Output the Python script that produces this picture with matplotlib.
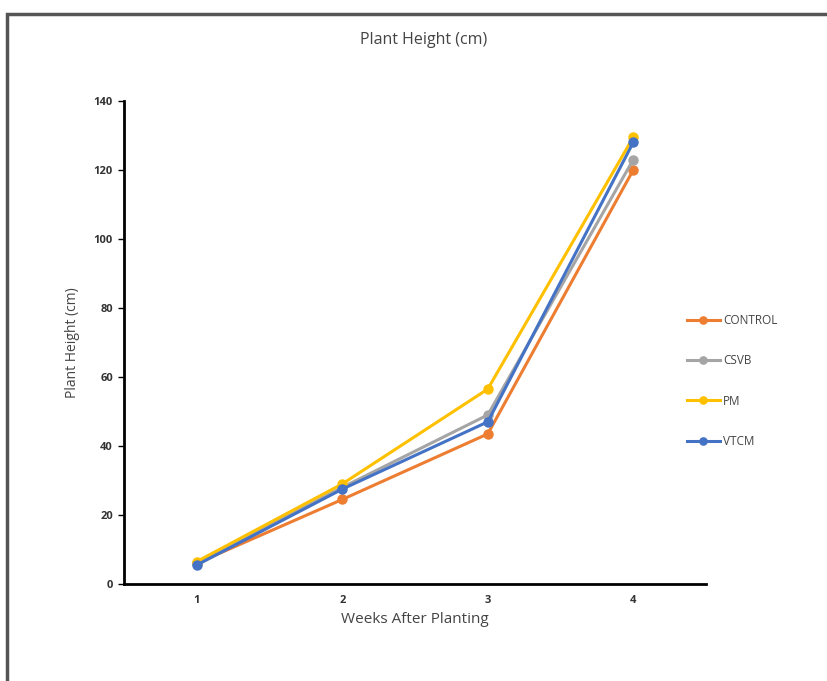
import matplotlib.pyplot as plt
from matplotlib.patches import Rectangle

plt.rcParams['font.family'] = ['Open Sans', 'DejaVu Sans']

weeks = [1, 2, 3, 4]
control = [6.0, 24.5, 43.5, 120.0]
csvb = [6.0, 28.0, 49.0, 123.0]
pm = [6.5, 29.0, 56.5, 129.5]
vtcm = [5.5, 27.5, 47.0, 128.0]

series = [('CONTROL', control, '#ED7D31'),
          ('CSVB', csvb, '#A5A5A5'),
          ('PM', pm, '#FFC000'),
          ('VTCM', vtcm, '#4472C4')]

fig = plt.figure(figsize=(8.27, 6.81), dpi=100)

# outer frame of the chart area
frame = Rectangle((7/827, -0.05), 1.2, 1 - 14/681 + 0.05, transform=fig.transFigure,
                  fill=False, edgecolor='#555555', linewidth=2.5)
fig.patches.append(frame)

ax = fig.add_axes([124/827, 1 - 584/681, 582/827, 483/681])

for name, vals, col in series:
    ax.plot(weeks, vals, color=col, linewidth=2.2, marker='o', markersize=6.5, label=name)

ax.set_xlim(0.5, 4.5)
ax.set_ylim(0, 140)
ax.set_yticks(range(0, 141, 20))
ax.set_xticks(weeks)
for s in ['top', 'right']:
    ax.spines[s].set_visible(False)
for s in ['left', 'bottom']:
    ax.spines[s].set_linewidth(2)
ax.tick_params(axis='y', length=4, width=1, labelsize=8, pad=4)
ax.tick_params(axis='x', length=0, labelsize=8, pad=8)
for lbl in ax.get_xticklabels() + ax.get_yticklabels():
    lbl.set_fontweight('bold')
    lbl.set_color('#333333')

ax.set_xlabel('Weeks After Planting', fontsize=11, color='#444444', labelpad=4)
ax.set_ylabel('Plant Height (cm)', fontsize=10, color='#444444', labelpad=10)

fig.text(424/827, 1 - 40/681, 'Plant Height (cm)', ha='center', va='center',
         fontsize=11.5, color='#444444')

fig.legend(loc='center left', bbox_to_anchor=(676/827, 1 - 381/681), frameon=False,
           fontsize=8.5, labelspacing=2.3, handlelength=2.8, handletextpad=0.3,
           markerscale=0.8, labelcolor='#444444')

fig.savefig('out.png', dpi=100)
